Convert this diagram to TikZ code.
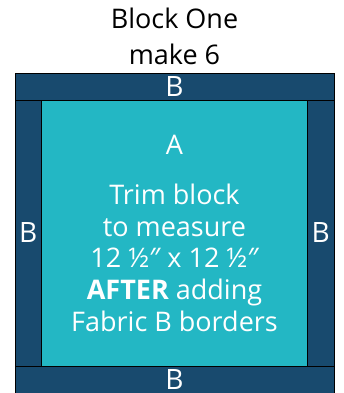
\documentclass[tikz,border=0pt]{standalone}
\usepackage{fontspec}
\setmainfont{Open Sans}
\newfontfamily\primefont{Noto Sans}
\newcommand{\inch}{{\primefont ″}}
\usetikzlibrary{positioning}
\definecolor{fabricA}{RGB}{35,183,196}
\definecolor{fabricB}{RGB}{24,74,110}

\begin{document}
\begin{tikzpicture}[x=1pt, y=1pt, node distance=0pt]
        \tikzstyle{piece}=[draw=black, line width=0.8pt, inner sep=0pt, outer sep=0pt, text=white, font=\fontsize{28}{28}\selectfont];
        \tikzstyle{border}=[piece, fill=fabricB];
        \tikzstyle{words}=[inner sep=0pt, align=center, font=\fontsize{27}{31.75}\selectfont];
        \useasboundingbox (0,0) rectangle (343,393);
        \node[border, minimum width=319pt, minimum height=27pt] (topB) at (174.5,306.5) {B};
        \node[border, minimum width=26.5pt, minimum height=266pt, below right=0pt of topB.south west] (leftB) {B};
        \node[piece, fill=fabricA, minimum width=266pt, minimum height=266pt, right=0pt of leftB] (blockA) {};
        \node[border, minimum width=26.5pt, minimum height=266pt, right=0pt of blockA] (rightB) {B};
        \node[border, minimum width=319pt, minimum height=27pt, below right=0pt of leftB.south west] (bottomB) {B};
        \node[words, text=white, below=35pt of blockA.north] (labelA) {A};
        \node[words, text=white, below=29pt of labelA] (trim) {Trim block\\to measure\\12 ½\inch{} x 12 ½\inch\\\textbf{AFTER} adding\\Fabric B borders};
        \node[words, font=\fontsize{27}{36}\selectfont, above=8pt of topB] (title) {Block One\\make 6};
      \end{tikzpicture}
\end{document}
